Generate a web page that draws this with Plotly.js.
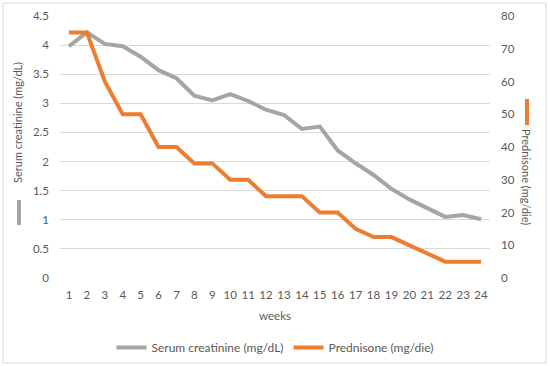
<!DOCTYPE html>
<html>
<head>
<meta charset="utf-8">
<script src="https://cdn.plot.ly/plotly-3.0.1.min.js"></script>
<style>html,body{margin:0;padding:0;background:#fff;}#chart{width:550px;height:366px;}</style>
</head>
<body>
<div id="chart"></div>
<script>
const weeks = ["1","2","3","4","5","6","7","8","9","10","11","12","13","14","15","16","17","18","19","20","21","22","23","24"];
const serumCreatinine = [3.98,4.22,4.02,3.98,3.80,3.57,3.43,3.13,3.05,3.16,3.04,2.89,2.80,2.56,2.60,2.19,1.97,1.77,1.53,1.35,1.20,1.05,1.08,1.01];
const prednisone = [75,75,60,50,50,40,40,35,35,30,30,25,25,25,20,20,15,12.5,12.5,10,7.5,5,5,5];
const seriesNames = ["Serum creatinine (mg/dL)", "Prednisone (mg/die)"];

const FONT = "Lato, 'Open Sans', sans-serif";
const TXT = "#595959";
const ML = 60, MR = 60, MT = 16, MB = 88, W = 550, H = 366;
const PW = W - ML - MR, PH = H - MT - MB;
const px = x => (x - ML) / PW;
const py = y => (H - MB - y) / PH;

const traces = [
  {x: weeks, y: serumCreatinine, name: seriesNames[0], type: "scatter", mode: "lines",
   line: {color: "#A5A5A5", width: 4}, yaxis: "y"},
  {x: weeks, y: prednisone, name: seriesNames[1], type: "scatter", mode: "lines",
   line: {color: "#ED7D31", width: 4}, yaxis: "y2"}
];

const layout = {
  width: W, height: H,
  margin: {l: ML, r: MR, t: MT, b: MB, autoexpand: false},
  paper_bgcolor: "#fff", plot_bgcolor: "#fff",
  font: {family: FONT, size: 11.5, color: TXT},
  showlegend: true,
  legend: {orientation: "h", x: 0.5, xanchor: "center", y: py(333), yanchor: "top",
           font: {family: FONT, size: 12, color: TXT}, itemwidth: 30, tracegroupgap: 0},
  xaxis: {type: "category", range: [-0.5, 23.5], showgrid: false, zeroline: false, automargin: false,
          showline: false, ticks: "", tickfont: {family: FONT, size: 11.5, color: TXT}, ticklabelstandoff: 8,
          title: {text: "weeks", font: {family: FONT, size: 11.5, color: TXT}, standoff: 12}},
  yaxis: {range: [0, 4.5], dtick: 0.5, showgrid: true, gridcolor: "#D9D9D9", gridwidth: 1, automargin: false,
          zeroline: false, showline: false, ticks: "", tickformat: ".1~f",
          tickfont: {family: FONT, size: 11.5, color: TXT}, ticklabelstandoff: 10},
  yaxis2: {range: [0, 80], dtick: 10, overlaying: "y", side: "right", showgrid: false, automargin: false,
           zeroline: false, showline: false, ticks: "",
           tickfont: {family: FONT, size: 11.5, color: TXT}, ticklabelstandoff: 10},
  shapes: [
    {type: "rect", xref: "paper", yref: "paper", x0: px(3), x1: px(546), y0: py(363), y1: py(3),
     line: {color: "#D9D9D9", width: 1}, layer: "below"},
    {type: "line", xref: "paper", yref: "paper", x0: px(19), x1: px(19), y0: py(225), y1: py(200),
     line: {color: "#A5A5A5", width: 4}},
    {type: "line", xref: "paper", yref: "paper", x0: px(527), x1: px(527), y0: py(125), y1: py(99),
     line: {color: "#ED7D31", width: 4}}
  ],
  annotations: [
    {text: seriesNames[0], xref: "paper", yref: "paper", x: px(18), y: py(123), textangle: -90,
     showarrow: false, font: {family: FONT, size: 11, color: TXT}, xanchor: "center", yanchor: "middle"},
    {text: seriesNames[1], xref: "paper", yref: "paper", x: px(527), y: py(177), textangle: 90,
     showarrow: false, font: {family: FONT, size: 11, color: TXT}, xanchor: "center", yanchor: "middle"}
  ]
};

Plotly.newPlot("chart", traces, layout, {displayModeBar: false, staticPlot: true});
</script>
</body>
</html>
